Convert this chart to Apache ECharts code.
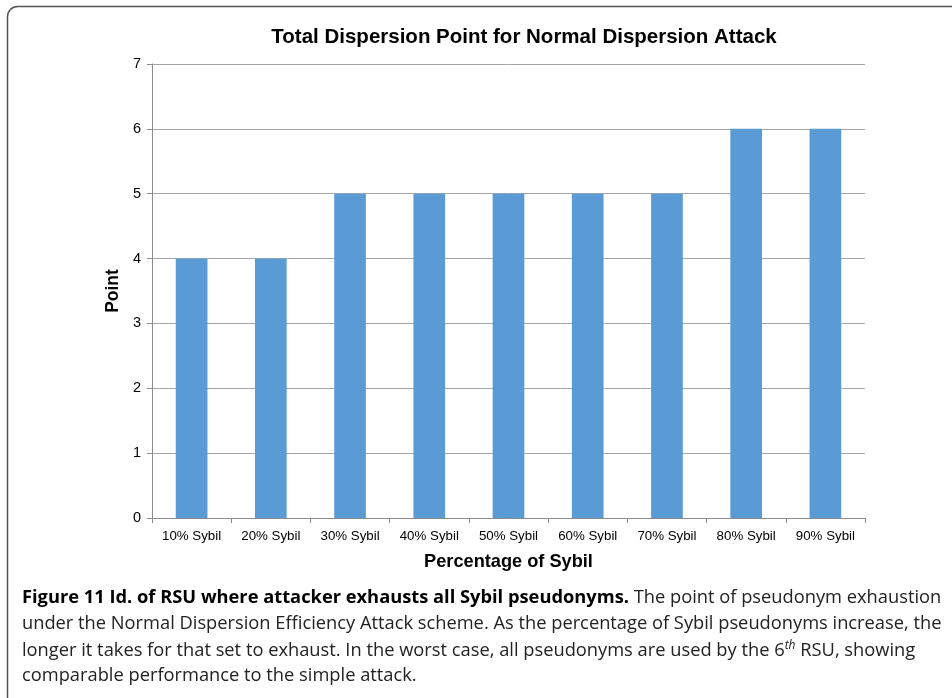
<!DOCTYPE html>
<html><head><meta charset="utf-8">
<script src="https://cdn.jsdelivr.net/npm/echarts@6/dist/echarts.min.js"></script>
<style>html,body{margin:0;padding:0;background:#fff}#c{width:952px;height:698px}</style>
</head><body><div id="c"></div>
<script>
const categories = ['10% Sybil','20% Sybil','30% Sybil','40% Sybil','50% Sybil','60% Sybil','70% Sybil','80% Sybil','90% Sybil'];
const points = [4,4,5,5,5,5,5,6,6];
const title = 'Total Dispersion Point for Normal Dispersion Attack';
const xName = 'Percentage of Sybil';
const yName = 'Point';
const captionBold = 'Figure 11 Id. of RSU where attacker exhausts all Sybil pseudonyms.';
const captionLines = [
  ' The point of pseudonym exhaustion',
  'under the Normal Dispersion Efficiency Attack scheme. As the percentage of Sybil pseudonyms increase, the',
  'longer it takes for that set to exhaust. In the worst case, all pseudonyms are used by the 6',
  'comparable performance to the simple attack.'
];
const chart = echarts.init(document.getElementById('c'));
const capFont = '"Open Sans", sans-serif';
const capSize = 18.3;
chart.setOption({
  animation:false,
  title:{text:title,left:519,top:22,textAlign:'center',textStyle:{fontFamily:'Liberation Sans, Arial',fontSize:20.5,fontWeight:'bold',color:'#000'}},
  grid:{left:152,right:87,top:64,bottom:180,containLabel:false},
  xAxis:{type:'category',data:categories,
    axisLine:{lineStyle:{color:'#8c8c8c'}},
    axisTick:{show:true,length:5,lineStyle:{color:'#8c8c8c'}},
    axisLabel:{color:'#000',fontFamily:'Liberation Sans, Arial',fontSize:13.3,margin:12},
    name:xName,nameLocation:'middle',nameGap:35,
    nameTextStyle:{color:'#000',fontFamily:'Liberation Sans, Arial',fontSize:18.2,fontWeight:'bold'}},
  yAxis:{type:'value',min:0,max:7,interval:1,
    axisLine:{show:true,lineStyle:{color:'#8c8c8c'}},
    axisTick:{show:true,length:5,lineStyle:{color:'#8c8c8c'}},
    splitLine:{lineStyle:{color:'#a6a6a6'}},
    axisLabel:{color:'#000',fontFamily:'Liberation Sans, Arial',fontSize:14.5,margin:11},
    name:yName,nameLocation:'middle',nameGap:28,
    nameTextStyle:{color:'#000',fontFamily:'Liberation Sans, Arial',fontSize:17.5,fontWeight:'bold'}},
  series:[{type:'bar',data:points,barWidth:'40%',itemStyle:{color:'#5b9bd5'}}],
  graphic:[
    {type:'rect',shape:{x:7.5,y:6.5,width:1000,height:1000,r:10},style:{fill:'none',stroke:'#555',lineWidth:1.5},silent:true},
    {type:'text',left:22,top:589,style:{rich:{b:{fontFamily:capFont,fontSize:capSize,fontWeight:'bold',fill:'#000'},n:{fontFamily:capFont,fontSize:capSize,fill:'#222'}},text:'{b|'+captionBold+'}{n|'+captionLines[0]+'}'}},
    {type:'text',left:22,top:615,style:{text:captionLines[1],font:capSize+'px '+capFont,fill:'#222'}},
    {type:'text',left:22,top:640,style:{rich:{n:{fontFamily:capFont,fontSize:capSize,fill:'#222'},s:{fontFamily:capFont,fontSize:12,fontStyle:'italic',fill:'#222',verticalAlign:'top',padding:[0,0,9,0]}},text:'{n|'+captionLines[2]+'}{s|th}{n| RSU, showing}'}},
    {type:'text',left:22,top:667,style:{text:captionLines[3],font:capSize+'px '+capFont,fill:'#222'}}
  ]
});
</script></body></html>
